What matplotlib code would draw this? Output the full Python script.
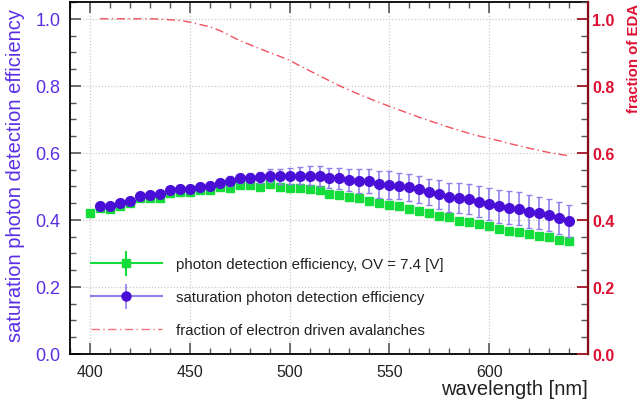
import matplotlib
matplotlib.use("Agg")
import matplotlib.pyplot as plt
from matplotlib.lines import Line2D
from matplotlib.legend_handler import HandlerTuple
from matplotlib.ticker import MultipleLocator

plt.rcParams['font.family'] = ['Liberation Sans', 'DejaVu Sans']

# ---- data ----
wl_pde = list(range(400, 645, 5))
pde = [0.421, 0.436, 0.433, 0.441, 0.450, 0.465, 0.465, 0.466, 0.481, 0.483,
       0.483, 0.490, 0.490, 0.497, 0.496, 0.504, 0.504, 0.499, 0.506, 0.497,
       0.494, 0.494, 0.492, 0.490, 0.478, 0.474, 0.469, 0.465, 0.456, 0.451,
       0.445, 0.441, 0.433, 0.428, 0.421, 0.412, 0.408, 0.396, 0.393, 0.388,
       0.382, 0.373, 0.368, 0.363, 0.359, 0.352, 0.349, 0.340, 0.336]
pde_err = [0.005] * len(pde)

wl_sat = list(range(405, 645, 5))
sat = [0.441, 0.441, 0.449, 0.455, 0.470, 0.473, 0.478, 0.488, 0.493, 0.493,
       0.499, 0.501, 0.510, 0.516, 0.524, 0.526, 0.527, 0.532, 0.530, 0.532,
       0.532, 0.532, 0.532, 0.524, 0.524, 0.520, 0.516, 0.516, 0.506, 0.503,
       0.501, 0.497, 0.491, 0.483, 0.476, 0.468, 0.465, 0.463, 0.454, 0.448,
       0.440, 0.437, 0.434, 0.425, 0.420, 0.415, 0.406, 0.397]
sat_err = [0.010, 0.010, 0.010, 0.010, 0.010, 0.010, 0.010, 0.011, 0.011, 0.012,
           0.012, 0.013, 0.013, 0.014, 0.014, 0.015, 0.017, 0.020, 0.022, 0.024,
           0.026, 0.028, 0.030, 0.030, 0.031, 0.033, 0.036, 0.036, 0.040, 0.042,
           0.040, 0.040, 0.040, 0.040, 0.042, 0.043, 0.045, 0.045, 0.046, 0.047,
           0.048, 0.048, 0.048, 0.048, 0.048, 0.048, 0.048, 0.048]

wl_eda = list(range(405, 645, 5))
eda = [1.000, 1.000, 1.000, 1.000, 1.000, 1.000, 0.999, 0.997, 0.995, 0.990,
       0.983, 0.976, 0.965, 0.950, 0.935, 0.923, 0.911, 0.899, 0.888, 0.876,
       0.860, 0.845, 0.830, 0.815, 0.800, 0.787, 0.774, 0.762, 0.750, 0.739,
       0.728, 0.717, 0.706, 0.696, 0.686, 0.676, 0.667, 0.658, 0.650, 0.643,
       0.636, 0.628, 0.621, 0.614, 0.607, 0.601, 0.596, 0.591]

labels = ["photon detection efficiency, OV = 7.4 [V]",
          "saturation photon detection efficiency",
          "fraction of electron driven avalanches"]

GREEN = '#14dd3a'
BLUE = '#4a0fd6'
BLUE_ERR = '#8f80ee'
RED = '#ee3344'
LEFTC = '#5a2ee6'
RIGHTC = '#dd1133'

fig = plt.figure(figsize=(6.43, 4.10), dpi=100)
ax = fig.add_axes([70/643, 1 - 355/410, 518/643, 352/410])

ax.errorbar(wl_pde, pde, yerr=pde_err, fmt='s', color=GREEN, ms=6.3,
            elinewidth=1.2, capsize=0, zorder=3)
ax.errorbar(wl_sat, sat, yerr=sat_err, fmt='o', color=BLUE, ms=7.0,
            ecolor=BLUE_ERR, elinewidth=1.2, capsize=2.5, capthick=1.0, zorder=4)

ax.set_xlim(390, 649.5)
ax.set_ylim(0, 1.05)
ax.xaxis.set_major_locator(MultipleLocator(50))
ax.xaxis.set_minor_locator(MultipleLocator(10))
ax.yaxis.set_major_locator(MultipleLocator(0.2))
ax.yaxis.set_minor_locator(MultipleLocator(0.05))
ax.yaxis.set_major_formatter(matplotlib.ticker.FormatStrFormatter('%.1f'))
ax.grid(True, which='major', linestyle=(0, (1, 1.5)), color='#cccccc', lw=0.9)
ax.tick_params(axis='both', which='major', direction='in', length=8, width=1.2,
               top=True, color='#555555')
ax.tick_params(axis='both', which='minor', direction='in', length=4, width=1.0,
               top=True, color='#555555')
ax.tick_params(axis='x', labelsize=11.5, pad=7, labelcolor='#222222')
ax.tick_params(axis='y', labelsize=13, labelcolor=LEFTC, pad=7)
for s in ['left', 'bottom', 'top']:
    ax.spines[s].set_linewidth(1.3)
    ax.spines[s].set_color('black')
ax.set_ylabel("saturation photon detection efficiency", color=LEFTC,
              fontsize=14.5)
ax.yaxis.set_label_coords((25 - 70) / 518, (355 - 176) / 352)
ax.set_xlabel("wavelength [nm]", fontsize=14.5, ha='right', x=1.0, labelpad=0,
              color='#222222')
fig.canvas.draw()
for t in ax.get_xticklabels():
    if t.get_text() == '650':
        t.set_ha('right')
        t.set_x(650.8)

ax2 = ax.twinx()
ax2.plot(wl_eda, eda, color=RED, lw=1.0, dashes=(6, 2.5, 1, 2.5), alpha=0.85)
ax2.set_ylim(0, 1.05)
ax2.yaxis.set_major_locator(MultipleLocator(0.2))
ax2.yaxis.set_minor_locator(MultipleLocator(0.05))
ax2.yaxis.set_major_formatter(matplotlib.ticker.FormatStrFormatter('%.1f'))
ax2.tick_params(axis='y', which='major', direction='in', length=8, width=1.4,
                color='#aa2233', labelcolor=RIGHTC, labelsize=11.5, pad=3)
ax2.tick_params(axis='y', which='minor', direction='in', length=5, width=1.0,
                color='#555555')
for lab in ax2.get_yticklabels():
    lab.set_fontweight('bold')
ax2.spines['right'].set_color('#8b0a1a')
ax2.spines['right'].set_linewidth(1.6)
for s in ['left', 'bottom', 'top']:
    ax2.spines[s].set_visible(False)

fig.text(634/643, 1 - 113/410, "fraction of EDA", rotation=90, color=RIGHTC,
         fontsize=10.8, fontweight='bold', ha='center', va='bottom')

h1 = (Line2D([], [], color=GREEN, lw=1.5, marker='s', ms=6.3),
      Line2D([], [], color=GREEN, ls='none', marker='|', ms=18, mew=1.5))
h2 = (Line2D([], [], color=BLUE_ERR, lw=1.5),
      Line2D([], [], color=BLUE_ERR, ls='none', marker='|', ms=18, mew=1.2),
      Line2D([], [], color=BLUE, ls='none', marker='o', ms=6.5))
h3 = Line2D([], [], color=RED, lw=1.0, dashes=(6, 2.5, 1, 2.5), alpha=0.7)
ax2.legend([h1, h2, h3], labels, handler_map={tuple: HandlerTuple(ndivide=1, pad=0)},
           loc='center left', bbox_to_anchor=(21/518, (355 - 298)/352),
           frameon=False, fontsize=10.8, handlelength=4.7, handletextpad=1.0,
           labelspacing=1.25, borderpad=0, borderaxespad=0,
           labelcolor='#222222')

fig.savefig("out.png", dpi=100)
